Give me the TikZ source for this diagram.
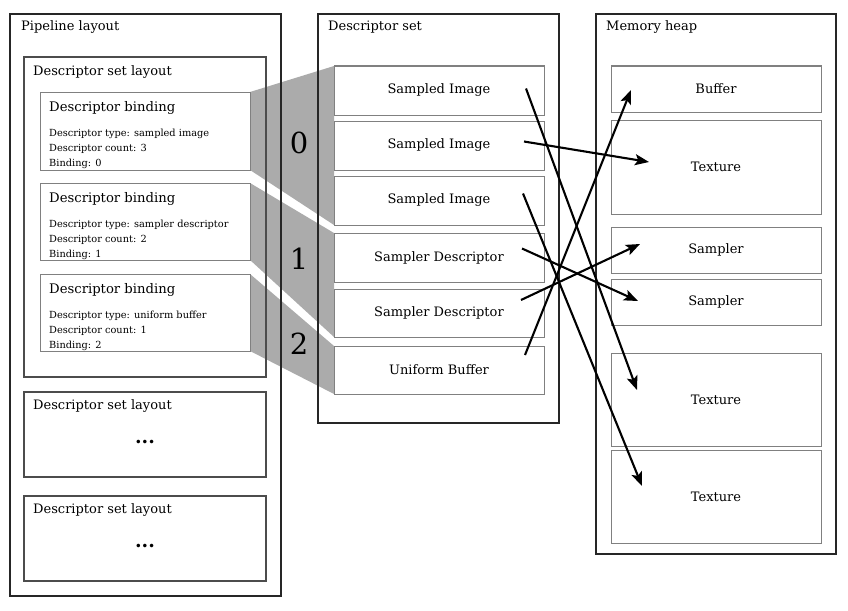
\documentclass[tikz,border=0pt]{standalone}
\usepackage{fontspec}
\setmainfont{DejaVu Serif}
\usetikzlibrary{positioning,arrows.meta,backgrounds}
\tikzstyle{outerbox} = [draw=black!85, line width=1.3pt, anchor=north west,
    inner sep=0pt, outer sep=0pt]
\tikzstyle{innerbox} = [draw=black!50, line width=1pt, fill=white,
    anchor=north west, inner sep=0pt, outer sep=0pt]
\tikzstyle{boxtitle} = [font=\fontsize{13}{15}\selectfont, inner sep=0pt, anchor=base west]
\tikzstyle{bindtitle} = [font=\fontsize{13.2}{16}\selectfont, inner sep=0pt, anchor=base west]
\tikzstyle{bindtext} = [font=\fontsize{9.8}{15}\selectfont, inner sep=0pt,
    anchor=north west, align=left]
\tikzstyle{slot} = [innerbox, minimum width=210pt, font=\fontsize{13}{15}\selectfont]
\tikzstyle{bindnum} = [font=\fontsize{29}{32}\selectfont, inner sep=0pt]
\tikzstyle{more} = [font=\bfseries\fontsize{19}{21}\selectfont, inner sep=0pt]
\tikzstyle{shade} = [fill=black!33]
\tikzstyle{link} = [line width=2.1pt, -{Stealth[length=14pt,width=11pt,inset=3pt]}]

\begin{document}
\begin{tikzpicture}[x=1pt, y=-1pt]
\useasboundingbox (0,0) rectangle (848,610);

% pipeline layout
\node[outerbox, minimum width=271pt, minimum height=582pt] (pipe) at (10,14) {};
\node[boxtitle] at ([shift={(11,17)}]pipe.north west) {Pipeline layout};
\node[outerbox, draw=black!70, minimum width=242pt, minimum height=320pt] (dsl) at (24,57) {};
\node[boxtitle] at ([shift={(9,18)}]dsl.north west) {Descriptor set layout};

\node[innerbox, minimum width=210pt, minimum height=78pt] (bind0) at (40,92) {};
\node[innerbox, minimum width=210pt, minimum height=77pt, below=13pt of bind0] (bind1) {};
\node[innerbox, minimum width=210pt, minimum height=77pt, below=14pt of bind1] (bind2) {};
\node[bindtitle] at ([shift={(9,19)}]bind0.north west) {Descriptor binding};
\node[bindtext] at ([shift={(9,37)}]bind0.north west)
    {Descriptor type: sampled image\\Descriptor count: 3\\Binding: 0};
\node[bindtitle] at ([shift={(9,19)}]bind1.north west) {Descriptor binding};
\node[bindtext] at ([shift={(9,37)}]bind1.north west)
    {Descriptor type: sampler descriptor\\Descriptor count: 2\\Binding: 1};
\node[bindtitle] at ([shift={(9,19)}]bind2.north west) {Descriptor binding};
\node[bindtext] at ([shift={(9,37)}]bind2.north west)
    {Descriptor type: uniform buffer\\Descriptor count: 1\\Binding: 2};

\node[outerbox, draw=black!70, minimum width=242pt, minimum height=85pt] (dsl2) at (24,392) {};
\node[boxtitle] at ([shift={(9,17)}]dsl2.north west) {Descriptor set layout};
\node[more] at ([shift={(0,7)}]dsl2.center) {...};
\node[outerbox, draw=black!70, minimum width=242pt, minimum height=85pt] (dsl3) at (24,496) {};
\node[boxtitle] at ([shift={(9,17)}]dsl3.north west) {Descriptor set layout};
\node[more] at ([shift={(0,7)}]dsl3.center) {...};

% descriptor set
\node[outerbox, minimum width=241pt, minimum height=409pt] (dset) at (318,14) {};
\node[boxtitle] at ([shift={(10,17)}]dset.north west) {Descriptor set};
\node[slot, minimum height=49pt] (si0) at (334,66) {Sampled Image};
\node[slot, minimum height=49pt, below=6pt of si0] (si1) {Sampled Image};
\node[slot, minimum height=49pt, below=6pt of si1] (si2) {Sampled Image};
\node[slot, minimum height=49pt, below=8pt of si2] (sd0) {Sampler Descriptor};
\node[slot, minimum height=48pt, below=7pt of sd0] (sd1) {Sampler Descriptor};
\node[slot, minimum height=48pt, below=9pt of sd1] (ub) {Uniform Buffer};

% memory heap
\node[outerbox, minimum width=240pt, minimum height=540pt] (heap) at (596,14) {};
\node[boxtitle] at ([shift={(10,17)}]heap.north west) {Memory heap};
\node[slot, minimum height=46pt] (buf) at (611,66) {Buffer};
\node[slot, minimum height=94pt, below=8pt of buf] (tex0) {Texture};
\node[slot, minimum height=46pt, below=13pt of tex0] (smp0) {Sampler};
\node[slot, minimum height=46pt, below=6pt of smp0] (smp1) {Sampler};
\node[slot, minimum height=93pt, below=28pt of smp1] (tex1) {Texture};
\node[slot, minimum height=93pt, below=4pt of tex1] (tex2) {Texture};

% binding numbers
\node[bindnum] (num0) at (299,143) {0};
\node[bindnum] (num1) at (299,259) {1};
\node[bindnum] (num2) at (299,344) {2};

\begin{scope}[on background layer]
\fill[shade] (bind0.north east) -- (si0.north west) -- (si2.south west) -- (bind0.south east) -- cycle;
\fill[shade] (bind1.north east) -- (sd0.north west) -- (sd1.south west) -- (bind1.south east) -- cycle;
\fill[shade] (bind2.north east) -- (ub.north west) -- (ub.south west) -- (bind2.south east) -- cycle;
\end{scope}

% descriptors to resources
\draw[link] ([shift={(-18,-2)}]si0.east) -- ([shift={(26,37)}]tex1.north west);
\draw[link] ([shift={(-20,-4)}]si1.east) -- ([shift={(38,-5)}]tex0.west);
\draw[link] ([shift={(-21,-7)}]si2.east) -- ([shift={(31,36)}]tex2.north west);
\draw[link] ([shift={(-22,-9)}]sd0.east) -- ([shift={(27,-1)}]smp1.west);
\draw[link] ([shift={(-23,-13)}]sd1.east) -- ([shift={(29,-6)}]smp0.west);
\draw[link] ([shift={(-19,-15)}]ub.east) -- ([shift={(20,1)}]buf.west);
\end{tikzpicture}
\end{document}
